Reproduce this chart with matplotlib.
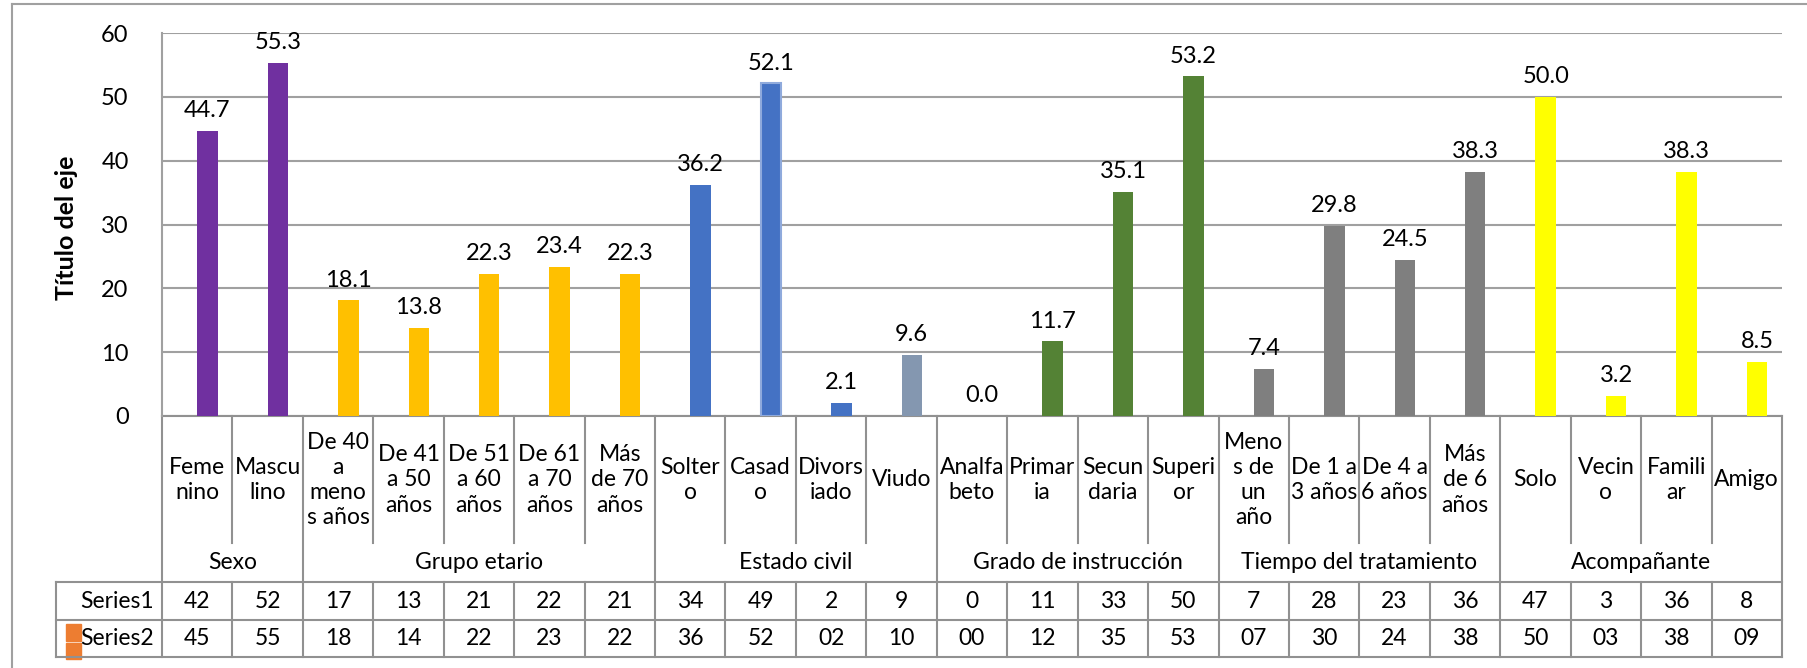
import matplotlib.pyplot as plt
import matplotlib.transforms as mtransforms
from matplotlib.lines import Line2D
from matplotlib.patches import Rectangle

plt.rcParams['font.family'] = ['Lato', 'DejaVu Sans']

# categories (wrapped as in the original), groups and values
categories = ["Feme\nnino", "Mascu\nlino",
              "De 40\na\nmeno\ns años", "De 41\na 50\naños", "De 51\na 60\naños",
              "De 61\na 70\naños", "Más\nde 70\naños",
              "Solter\no", "Casad\no", "Divors\niado", "Viudo",
              "Analfa\nbeto", "Primar\nia", "Secun\ndaria", "Superi\nor",
              "Meno\ns de\nun\naño", "De 1 a\n3 años", "De 4 a\n6 años", "Más\nde 6\naños",
              "Solo", "Vecin\no", "Famili\nar", "Amigo"]
groups = ["Sexo", "Grupo etario", "Estado civil", "Grado de instrucción",
          "Tiempo del tratamiento", "Acompañante"]
group_sizes = [2, 5, 4, 4, 4, 4]

series1 = [42, 52, 17, 13, 21, 22, 21, 34, 49, 2, 9, 0, 11, 33, 50, 7, 28, 23, 36, 47, 3, 36, 8]
series2 = [44.7, 55.3, 18.1, 13.8, 22.3, 23.4, 22.3, 36.2, 52.1, 2.1, 9.6, 0.0, 11.7, 35.1, 53.2,
           7.4, 29.8, 24.5, 38.3, 50.0, 3.2, 38.3, 8.5]
series2_table = ["45", "55", "18", "14", "22", "23", "22", "36", "52", "02", "10", "00", "12",
                 "35", "53", "07", "30", "24", "38", "50", "03", "38", "09"]

group_colors = ['#7030A0', '#FFC000', '#4472C4', '#548235', '#7F7F7F', '#FFFF00']

W, H = 1808, 668
fig = plt.figure(figsize=(W / 100, H / 100), dpi=100)


def fy(py):
    return 1 - py / H


def fx(px):
    return px / W


plot_l, plot_r, plot_t, plot_b = 162, 1782, 33, 416
ax = fig.add_axes([fx(plot_l), fy(plot_b), fx(plot_r) - fx(plot_l), fy(plot_t) - fy(plot_b)])

n = len(categories)
xs = list(range(n))
colors = []
for c, s in zip(group_colors, group_sizes):
    colors += [c] * s
colors[10] = '#8497B0'  # Viudo

bars = ax.bar(xs, series2, width=0.29, align='edge', color=colors, zorder=3)
bars[8].set_edgecolor('#8FAADC')
bars[8].set_linewidth(1.5)

for x, v in zip(xs, series2):
    ax.annotate(f"{v:.1f}", (x + 0.145, v), xytext=(0, 7), textcoords='offset points',
                ha='center', va='bottom', fontsize=17, color='#000000')

ax.set_xlim(-0.5, n - 0.5)
ax.set_ylim(0, 60)
ax.set_yticks(range(0, 61, 10))
ax.yaxis.grid(True, color='#A0A0A0', linewidth=1.5, zorder=0)
ax.set_axisbelow(True)
ax.tick_params(axis='y', length=0, pad=24, labelsize=17)
ax.tick_params(axis='x', length=0, labelbottom=False)
for side in ['top', 'right', 'bottom']:
    ax.spines[side].set_visible(False)
ax.spines['left'].set_color('#A0A0A0')
ax.spines['left'].set_linewidth(1.5)
fig.text(fx(66), fy(228), "Título del eje", rotation=90, ha='center', va='center',
         fontsize=18, fontweight='bold')

# data table below the axis
tr = mtransforms.blended_transform_factory(ax.transData, fig.transFigure)
line_kw = dict(color='#919191', linewidth=1.5, clip_on=False)

cat_top, cat_bot, row1, row2, row3 = 416, 543, 582, 620, 657
table_l = 56
fs = 16.5

ax.plot([-0.5, n - 0.5], [fy(cat_top)] * 2, transform=tr, **line_kw)
for yy in (row1, row2, row3):
    fig.add_artist(Line2D([fx(table_l), fx(plot_r)], [fy(yy)] * 2, transform=fig.transFigure, **line_kw))
fig.add_artist(Line2D([fx(table_l)] * 2, [fy(row1), fy(row3)], transform=fig.transFigure, **line_kw))

group_edges = [-0.5]
for s in group_sizes:
    group_edges.append(group_edges[-1] + s)
for b in range(n + 1):
    xb = b - 0.5
    if xb in group_edges:
        ax.plot([xb, xb], [fy(cat_top), fy(row3)], transform=tr, **line_kw)
    else:
        ax.plot([xb, xb], [fy(cat_top), fy(cat_bot)], transform=tr, **line_kw)
        ax.plot([xb, xb], [fy(row1), fy(row3)], transform=tr, **line_kw)

for x, lab in zip(xs, categories):
    ax.text(x, fy(480), lab, transform=tr, ha='center', va='center', fontsize=fs,
            linespacing=1.25, clip_on=False)
for g, s, e in zip(groups, group_sizes, group_edges):
    ax.text(e + s / 2, fy((cat_bot + row1) / 2), g, transform=tr, ha='center', va='center',
            fontsize=fs, clip_on=False)
for x, a, b in zip(xs, series1, series2_table):
    ax.text(x, fy((row1 + row2) / 2), str(a), transform=tr, ha='center', va='center', fontsize=fs)
    ax.text(x, fy((row2 + row3) / 2), b, transform=tr, ha='center', va='center', fontsize=fs)

fig.text(fx(154), fy((row1 + row2) / 2), "Series1", ha='right', va='center', fontsize=fs)
fig.text(fx(154), fy((row2 + row3) / 2), "Series2", ha='right', va='center', fontsize=fs)
# legend key for Series2
fig.add_artist(Rectangle((fx(66), fy(641)), fx(15), 17 / H, transform=fig.transFigure,
                         color='#ED7D31'))
fig.add_artist(Rectangle((fx(66), fy(659)), fx(15), 16 / H, transform=fig.transFigure,
                         color='#ED7D31'))

# outer chart border
border_kw = dict(color='#A0A0A0', linewidth=1.5)
fig.add_artist(Line2D([fx(12), 1], [fy(4), fy(4)], transform=fig.transFigure, **border_kw))
fig.add_artist(Line2D([fx(12), fx(12)], [fy(4), 0], transform=fig.transFigure, **border_kw))

fig.savefig('out.png', dpi=100)
